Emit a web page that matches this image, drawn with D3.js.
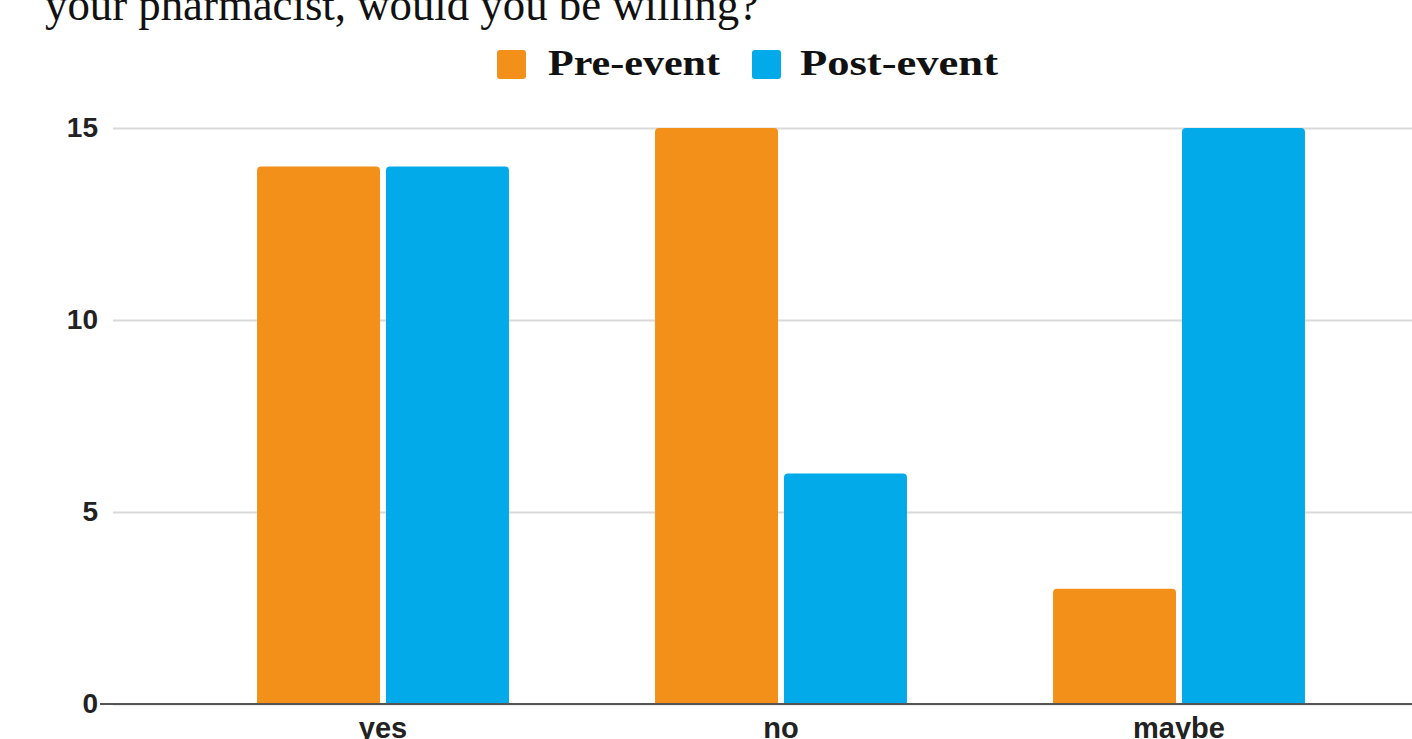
<!DOCTYPE html>
<html>
<head>
<meta charset="utf-8">
<script src="https://cdn.jsdelivr.net/npm/d3@7"></script>
<style>
  html, body { margin: 0; padding: 0; background: #fff; }
  svg { display: block; }
</style>
</head>
<body>
<svg id="chart" width="1412" height="739"></svg>
<script>
const titleText = "your pharmacist, would you be willing?";
const categories = ["yes", "no", "maybe"];
const seriesNames = ["Pre-event", "Post-event"];
const preEvent = [14, 15, 3];
const postEvent = [14, 6, 15];
const yTicks = [0, 5, 10, 15];
const colors = ["#F39019", "#02AAE9"];

const svg = d3.select("#chart");
const W = 1412, H = 739;

const x = d3.scaleBand().domain(categories).range([184, 1378])
  .paddingInner(0.367).paddingOuter(0.1835);
const xs = d3.scaleBand().domain(seriesNames).range([0, x.bandwidth()])
  .paddingInner(0.0465).paddingOuter(0);
const y = d3.scaleLinear().domain([0, 15]).range([704, 128]);

// Title (cut off at top, as in the source image)
svg.append("text")
  .attr("x", 45).attr("y", 20)
  .attr("font-family", "Liberation Serif, serif")
  .attr("font-size", 46)
  .attr("textLength", 714).attr("lengthAdjust", "spacingAndGlyphs")
  .attr("fill", "#111")
  .text(titleText);

// Gridlines + y labels
const yAxis = d3.axisLeft(y).tickValues(yTicks).tickSizeInner(-(W - 113)).tickSizeOuter(0).tickPadding(15)
  .tickFormat(d3.format("d"));
const gy = svg.append("g").attr("transform", "translate(113,0)").call(yAxis);
gy.select(".domain").remove();
gy.selectAll(".tick line").attr("stroke", "#d9d9d9").attr("stroke-width", 2);
gy.selectAll(".tick text")
  .attr("font-family", "Liberation Sans, Arial, sans-serif")
  .attr("font-weight", "bold").attr("font-size", 28).attr("fill", "#222");

// Bars
const data = categories.map((c, i) => ({ cat: c, vals: [preEvent[i], postEvent[i]] }));
function topRounded(x0, y0, w, h, r) {
  r = Math.min(r, h, w / 2);
  return `M${x0},${y0 + h}V${y0 + r}Q${x0},${y0} ${x0 + r},${y0}H${x0 + w - r}Q${x0 + w},${y0} ${x0 + w},${y0 + r}V${y0 + h}Z`;
}
const groups = svg.append("g").selectAll("g").data(data).join("g")
  .attr("transform", d => `translate(${x(d.cat)},0)`);
groups.selectAll("path").data(d => d.vals.map((v, j) => ({ name: seriesNames[j], v, j })))
  .join("path")
  .attr("d", d => topRounded(xs(d.name), y(d.v), xs.bandwidth(), y(0) - y(d.v), 4))
  .attr("fill", d => colors[d.j]);

// Baseline
svg.append("line").attr("x1", 100).attr("x2", W).attr("y1", y(0)).attr("y2", y(0))
  .attr("stroke", "#555").attr("stroke-width", 2);

// X axis labels
const xAxis = d3.axisBottom(x).tickSize(0).tickPadding(13);
const gx = svg.append("g").attr("transform", `translate(0,${y(0)})`).call(xAxis);
gx.select(".domain").remove();
gx.selectAll(".tick text")
  .attr("font-family", "Liberation Sans, Arial, sans-serif")
  .attr("font-weight", "bold").attr("font-size", 29).attr("fill", "#222");

// Legend
const legendItems = [
  { name: seriesNames[0], sx: 497, tx: 548, tw: 172 },
  { name: seriesNames[1], sx: 752, tx: 800, tw: 198 }
];
const lg = svg.append("g");
legendItems.forEach((it, i) => {
  lg.append("rect").attr("x", it.sx).attr("y", 50).attr("width", 29).attr("height", 29)
    .attr("rx", 3).attr("fill", colors[i]);
  lg.append("text").attr("x", it.tx).attr("y", 75)
    .attr("font-family", "Liberation Serif, serif").attr("font-weight", "bold")
    .attr("font-size", 36).attr("fill", "#111")
    .attr("textLength", it.tw).attr("lengthAdjust", "spacingAndGlyphs")
    .text(it.name);
});
</script>
</body>
</html>
